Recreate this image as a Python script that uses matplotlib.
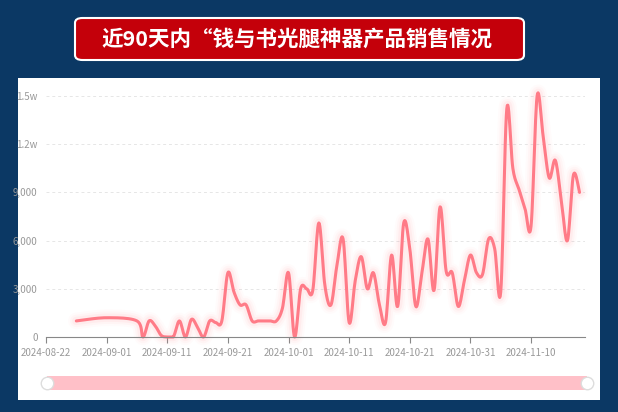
import numpy as np
import pandas as pd
import matplotlib.pyplot as plt
from matplotlib.patches import FancyBboxPatch

plt.rcParams['font.family'] = ['Noto Sans CJK SC', 'DejaVu Sans']

START = pd.Timestamp("2024-08-22")
# day offsets from START and sales values
days = [5, 10, 15, 16, 17, 18, 19, 20, 21, 22, 23, 24, 25, 26, 27, 28, 29, 30,
        31, 32, 33, 34, 35, 36, 37, 38, 39, 40, 41, 42, 43, 44, 45, 46, 47, 48,
        49, 50, 51, 52, 53, 54, 55, 56, 57, 58, 59, 60, 61, 62, 63, 64, 65, 66,
        67, 68, 69, 70, 71, 72, 73, 74, 75, 76, 77, 78, 79, 80, 81, 82, 83, 84,
        85, 86, 87, 88]
sales = [1000, 1200, 1000, 0, 1000, 700, 100, 0, 0, 1000, 0, 1100, 600, 0, 1000, 900, 1000, 4000,
         2800, 2000, 2000, 1000, 1000, 1000, 1000, 1000, 1800, 4000, 0, 3000, 3000, 2900, 7100, 3200, 2000, 4500,
         6100, 900, 3500, 5000, 3000, 4000, 2000, 900, 5100, 1900, 7100, 5500, 1900, 4000, 6100, 2900, 8100, 4100,
         4000, 1900, 3500, 5100, 4000, 3900, 6100, 5500, 2800, 14200, 10500, 9200, 8000, 6900, 15000, 12500, 9900, 11000,
         8500, 6000, 10100, 9000]
tick_days = list(range(0, 81, 10))
tick_labels = [(START + pd.Timedelta(days=d)).strftime("%Y-%m-%d") for d in tick_days]
y_ticks = [0, 3000, 6000, 9000, 12000, 15000]
y_labels = ["0", "3,000", "6,000", "9,000", "1.2w", "1.5w"]


def catmull_rom(x, y, n=12):
    x = np.asarray(x, float)
    y = np.asarray(y, float)
    px = np.concatenate([[x[0]], x, [x[-1]]])
    py = np.concatenate([[y[0]], y, [y[-1]]])
    xs, ys = [], []
    t = np.linspace(0, 1, n, endpoint=False)
    for i in range(1, len(px) - 2):
        for arr, out in ((px, xs), (py, ys)):
            p0, p1, p2, p3 = arr[i - 1], arr[i], arr[i + 1], arr[i + 2]
            out.append(0.5 * (2 * p1 + (-p0 + p2) * t + (2 * p0 - 5 * p1 + 4 * p2 - p3) * t ** 2
                              + (-p0 + 3 * p1 - 3 * p2 + p3) * t ** 3))
    xs.append([x[-1]])
    ys.append([y[-1]])
    return np.concatenate(xs), np.clip(np.concatenate(ys), 0, None)


fig = plt.figure(figsize=(6.18, 4.12), dpi=100)
fig.patch.set_facecolor("#0b3864")

bg = fig.add_axes([18 / 618, 12 / 412, 582 / 618, 322 / 412], zorder=-5)
bg.set_facecolor("white")
bg.set_xticks([])
bg.set_yticks([])
for s in bg.spines.values():
    s.set_visible(False)

title_box = FancyBboxPatch((75 / 618, 352 / 412), 449 / 618, 42 / 412, transform=fig.transFigure,
                           boxstyle="round,pad=0,rounding_size=0.012", facecolor="#c4000a",
                           edgecolor="white", linewidth=1.5)
fig.patches.append(title_box)
fig.text(297 / 618, 373 / 412, "近90天内“钱与书光腿神器产品销售情况", color="white",
         fontsize=15.5, fontweight="bold", ha="center", va="center")

ax = fig.add_axes([46 / 618, 75 / 412, 539 / 618, 241 / 412])
ax.patch.set_alpha(0)
sx, sy = catmull_rom(days, sales)
for lw, a in [(12, 0.03), (9, 0.05), (6, 0.08)]:
    ax.plot(sx, sy, color="#ff8a95", linewidth=lw, alpha=a, solid_capstyle="round", clip_on=False)
ax.plot(sx, sy, color="#ff7b87", linewidth=2.2, solid_capstyle="round", clip_on=False)

ax.set_xlim(0, 88.9)
ax.set_ylim(0, 15000)
ax.set_xticks(tick_days)
ax.set_xticklabels(tick_labels, fontsize=7, color="#999999")
ax.set_yticks(y_ticks)
ax.set_yticklabels(y_labels, fontsize=7, color="#999999")
ax.tick_params(axis="y", length=0, pad=6)
ax.tick_params(axis="x", length=4, color="#888888", pad=4)
for s in ["top", "right", "left"]:
    ax.spines[s].set_visible(False)
ax.spines["bottom"].set_color("#888888")
ax.grid(axis="y", color="#e6e6e6", linestyle=(0, (3, 3)), linewidth=0.7)
ax.set_axisbelow(True)

# zoom slider
sl = fig.add_axes([47 / 618, 22 / 412, 540 / 618, 14 / 412])
sl.axis("off")
sl.set_xlim(0, 1)
sl.set_ylim(0, 1)
sl.add_patch(plt.Rectangle((0, 0), 1, 1, facecolor="#ffc0c8", edgecolor="none"))
for hx in (0, 1):
    sl.plot(hx, 0.5, marker="o", markersize=9, markerfacecolor="white",
            markeredgecolor="#dddddd", clip_on=False)

fig.savefig("out.png", dpi=100, facecolor=fig.get_facecolor())
